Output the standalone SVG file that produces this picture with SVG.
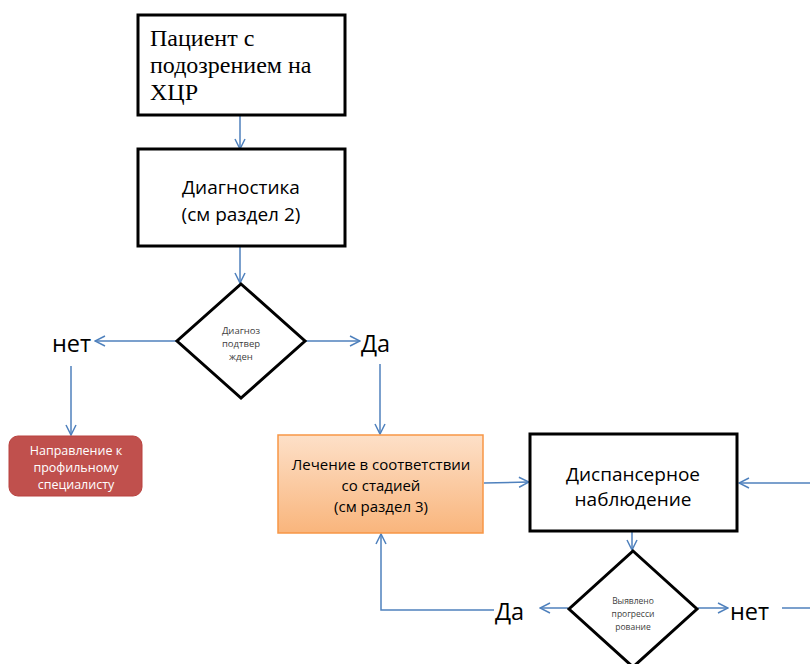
<svg xmlns="http://www.w3.org/2000/svg" width="810" height="664" viewBox="0 0 810 664">
<style>
.box{fill:#fff;stroke:#000;stroke-width:3}
.dia{fill:#fff;stroke:#000;stroke-width:3;stroke-linejoin:miter}
.c{fill:none;stroke:#4f81bd;stroke-width:1.5}
.t{font-family:"Open Sans","Liberation Sans",sans-serif;fill:#000;text-anchor:middle}
.lbl{font-family:"Open Sans","Liberation Sans",sans-serif;fill:#000;font-size:23.5px}
.sm{font-family:"Open Sans","Liberation Sans",sans-serif;fill:#404040;text-anchor:middle}
.w{fill:#fff}
</style>
<defs>
<marker id="a" viewBox="0 0 12 12" refX="11" refY="6" markerWidth="12" markerHeight="12" markerUnits="userSpaceOnUse" orient="auto">
<polyline points="1,1 11,6 1,11" fill="none" stroke="#4f81bd" stroke-width="1.5"/>
</marker>
<linearGradient id="og" x1="0" y1="0" x2="0" y2="1">
<stop offset="0" stop-color="#fde0c8"/>
<stop offset="1" stop-color="#f9b57c"/>
</linearGradient>
</defs>
<g id="connectors">
<line class="c" x1="240" y1="115" x2="240" y2="149" marker-end="url(#a)"/>
<line class="c" x1="240" y1="246" x2="240" y2="283" marker-end="url(#a)"/>
<line class="c" x1="176" y1="341" x2="95" y2="341" marker-end="url(#a)"/>
<line class="c" x1="71" y1="366" x2="71" y2="435" marker-end="url(#a)"/>
<line class="c" x1="306" y1="341" x2="360" y2="341" marker-end="url(#a)"/>
<line class="c" x1="380" y1="364" x2="380" y2="434" marker-end="url(#a)"/>
<line class="c" x1="484" y1="483" x2="529" y2="482" marker-end="url(#a)"/>
<line class="c" x1="810" y1="483" x2="739" y2="483" marker-end="url(#a)"/>
<line class="c" x1="632" y1="532" x2="632" y2="550" marker-end="url(#a)"/>
<line class="c" x1="568" y1="608" x2="540" y2="608" marker-end="url(#a)"/>
<polyline class="c" points="494,610 381,610 381,534" marker-end="url(#a)"/>
<line class="c" x1="698" y1="608" x2="728" y2="608" marker-end="url(#a)"/>
<line class="c" x1="782" y1="608" x2="810" y2="608"/>
</g>
<g id="n1">
<rect class="box" x="138" y="15" width="207" height="100"/>
<text x="150" y="46" font-family="Liberation Serif,serif" font-size="24">Пациент с</text>
<text x="150" y="73" font-family="Liberation Serif,serif" font-size="24">подозрением на</text>
<text x="150" y="100" font-family="Liberation Serif,serif" font-size="24">ХЦР</text>
</g>
<g id="n2">
<rect class="box" x="138" y="149" width="207" height="97"/>
<text class="t" x="241" y="194" font-size="19">Диагностика</text>
<text class="t" x="241" y="221" font-size="19">(см раздел 2)</text>
</g>
<g id="d1">
<polygon class="dia" points="241,284 305,341 241,398 177,341"/>
<text class="sm" x="241" y="334" font-size="9.5">Диагноз</text>
<text class="sm" x="241" y="347" font-size="9.5">подтвер</text>
<text class="sm" x="241" y="360" font-size="9.5">жден</text>
</g>
<g id="l_net1"><text class="lbl" x="52" y="352">нет</text></g>
<g id="l_da1"><text class="lbl" x="361" y="352">Да</text></g>
<g id="n_red">
<rect x="9" y="436" width="133" height="60" rx="9" fill="#c0504d" stroke="#b9413e" stroke-width="1"/>
<text class="t w" x="76" y="455" font-size="12.5" style="fill:#fff">Направление к</text>
<text class="t w" x="76" y="472" font-size="12.5" style="fill:#fff">профильному</text>
<text class="t w" x="76" y="489" font-size="12.5" style="fill:#fff">специалисту</text>
</g>
<g id="n_orange">
<rect x="278" y="435" width="205" height="98" fill="url(#og)" stroke="#f79646" stroke-width="1.5"/>
<text class="t" x="381" y="470" font-size="15">Лечение в соответствии</text>
<text class="t" x="381" y="491" font-size="15">со стадией</text>
<text class="t" x="381" y="512" font-size="15">(см раздел 3)</text>
</g>
<g id="n3">
<rect class="box" x="530" y="434" width="207" height="97"/>
<text class="t" x="633" y="481" font-size="19">Диспансерное</text>
<text class="t" x="633" y="506" font-size="19">наблюдение</text>
</g>
<g id="d2">
<polygon class="dia" points="633,551 697,609 633,667 569,609"/>
<text class="sm" x="633" y="604" font-size="8.5">Выявлено</text>
<text class="sm" x="633" y="617" font-size="8.5">прогресси</text>
<text class="sm" x="633" y="630" font-size="8.5">рование</text>
</g>
<g id="l_da2"><text class="lbl" x="495" y="620">Да</text></g>
<g id="l_net2"><text class="lbl" x="730" y="620">нет</text></g>
</svg>
